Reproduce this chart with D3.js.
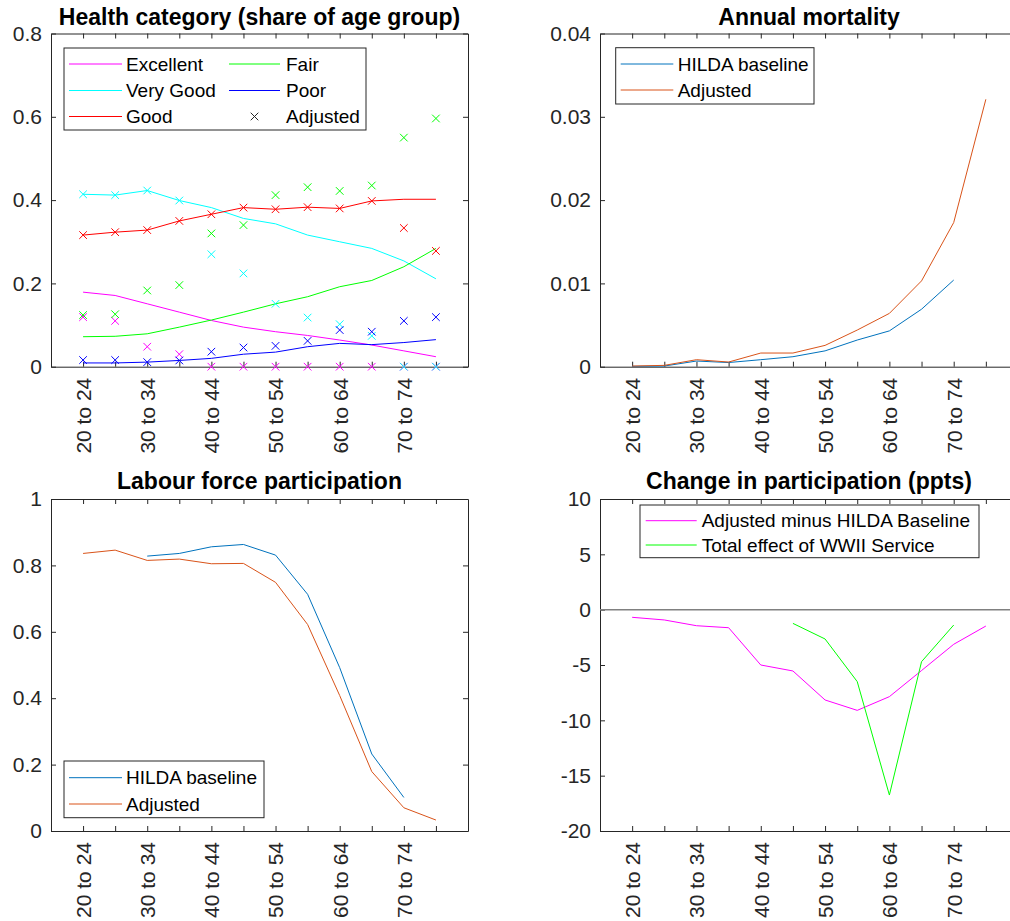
<!DOCTYPE html>
<html>
<head>
<meta charset="utf-8">
<script src="https://cdn.jsdelivr.net/npm/d3@7"></script>
<style>
  html, body { margin: 0; padding: 0; background: #fff; }
  svg { display: block; font-family: "Liberation Sans", Arial, Helvetica, sans-serif; }
</style>
</head>
<body>
<svg id="fig" width="1010" height="921"></svg>
<script>
// ---- Age groups (x categories) and shown tick labels ----
const ageGroups = ["20 to 24","25 to 29","30 to 34","35 to 39","40 to 44","45 to 49",
                   "50 to 54","55 to 59","60 to 64","65 to 69","70 to 74","75 to 79"];
const xTickLabels = ["20 to 24","","30 to 34","","40 to 44","","50 to 54","","60 to 64","","70 to 74",""];

// ---- Health category shares: HILDA baseline (lines) ----
const excellentBase = [0.179,0.171,0.151,0.131,0.111,0.095,0.084,0.075,0.064,0.052,0.038,0.024];
const veryGoodBase  = [0.414,0.412,0.423,0.399,0.382,0.356,0.343,0.316,0.300,0.284,0.254,0.211];
const goodBase      = [0.316,0.323,0.328,0.350,0.366,0.382,0.378,0.383,0.380,0.398,0.402,0.402];
const fairBase      = [0.072,0.073,0.079,0.095,0.112,0.131,0.151,0.168,0.192,0.207,0.240,0.284];
const poorBase      = [0.009,0.009,0.011,0.015,0.020,0.030,0.035,0.048,0.056,0.053,0.058,0.065];

// ---- Health category shares: adjusted (markers) ----
const excellentAdj = [0.119,0.110,0.048,0.030,0,0,0,0,0,0,0,0];
const veryGoodAdj  = [0.414,0.412,0.423,0.399,0.270,0.224,0.151,0.118,0.102,0.074,0,0];
const goodAdj      = [0.316,0.323,0.328,0.350,0.366,0.382,0.378,0.383,0.380,0.398,0.333,0.278];
const fairAdj      = [0.124,0.126,0.183,0.196,0.320,0.340,0.412,0.431,0.422,0.435,0.550,0.596];
const poorAdj      = [0.016,0.016,0.011,0.015,0.036,0.046,0.050,0.062,0.088,0.084,0.110,0.119];

// ---- Annual mortality ----
const mortalityBaseline = [0.00004,0.00008,0.00068,0.0005,0.00084,0.0012,0.0019,0.0032,0.0043,0.0069,0.0104,null];
const mortalityAdjusted = [0.00008,0.00016,0.00084,0.00056,0.00164,0.00164,0.00256,0.0044,0.0064,0.0103,0.0173,0.0321];

// ---- Labour force participation ----
const lfpBaseline = [null,null,0.828,0.836,0.856,0.863,0.831,0.713,0.492,0.232,0.101,null];
const lfpAdjusted = [0.836,0.846,0.815,0.819,0.805,0.806,0.749,0.622,0.408,0.179,0.070,0.033];

// ---- Change in participation (ppts) ----
const adjMinusBaseline = [-0.69,-0.93,-1.45,-1.63,-5.0,-5.54,-8.16,-9.1,-7.86,-5.5,-3.13,-1.48];
const wwiiTotalEffect  = [null,null,null,null,null,-1.24,-2.65,-6.5,-16.75,-4.7,-1.39,null];

// ---- Y tick values ----
const yTicksHealth = [0, 0.2, 0.4, 0.6, 0.8];
const yTicksMortality = [0, 0.01, 0.02, 0.03, 0.04];
const yTicksLfp = [0, 0.2, 0.4, 0.6, 0.8, 1];
const yTicksChange = [-20, -15, -10, -5, 0, 5, 10];

const AX = "#262626";
const C_BLUE = "#0072BD", C_ORANGE = "#D95319";
const C_MAG = "#FF00FF", C_CYAN = "#00FFFF", C_RED = "#FF0000", C_GREEN = "#00FF00", C_NAVY = "#0000FF";

const TICK_FONT = 21, LEGEND_FONT = 19, TITLE_FONT = 23;

const svg = d3.select("#fig");
const fmt = d => String(+d.toFixed(4));

function panel(box, yDomain, yTicks, title) {
  const g = svg.append("g");
  const x = d3.scaleLinear().domain([0, 13]).range([box.left, box.right]);
  const y = d3.scaleLinear().domain(yDomain).range([box.bottom, box.top]);
  const xt = d3.range(1, 13);
  const tick = 5;

  // bottom axis with rotated category labels
  const gb = g.append("g").attr("transform", `translate(0,${box.bottom})`)
    .call(d3.axisBottom(x).tickValues(xt).tickSizeInner(-tick).tickSizeOuter(0)
      .tickFormat(d => xTickLabels[d - 1]));
  gb.selectAll("text").attr("transform", "rotate(-90)")
    .attr("x", -11).attr("y", 0).attr("dy", "0.35em")
    .attr("text-anchor", "end");
  // top axis (ticks only)
  g.append("g").attr("transform", `translate(0,${box.top})`)
    .call(d3.axisTop(x).tickValues(xt).tickSizeInner(-tick).tickSizeOuter(0).tickFormat(""));
  // left axis
  const gl = g.append("g").attr("transform", `translate(${box.left},0)`)
    .call(d3.axisLeft(y).tickValues(yTicks).tickSizeInner(-tick).tickSizeOuter(0).tickFormat(fmt));
  gl.selectAll("text").attr("x", -9);
  // right axis (ticks only)
  g.append("g").attr("transform", `translate(${box.right},0)`)
    .call(d3.axisRight(y).tickValues(yTicks).tickSizeInner(-tick).tickSizeOuter(0).tickFormat(""));

  g.selectAll(".domain, .tick line").attr("stroke", AX).attr("stroke-width", 1);
  g.selectAll(".tick text").attr("fill", AX).attr("font-size", TICK_FONT)
    .attr("font-family", "'Liberation Sans', Arial, sans-serif");

  g.append("text").attr("x", (box.left + box.right) / 2).attr("y", box.titleY)
    .attr("text-anchor", "middle").attr("font-weight", "bold").attr("font-size", TITLE_FONT)
    .attr("fill", "#000").text(title);

  const plot = g.append("g");
  return { x, y, g, plot };
}

function drawLine(p, values, color) {
  const line = d3.line()
    .defined(d => d != null)
    .x((d, i) => p.x(i + 1)).y(d => p.y(d));
  p.plot.append("path").datum(values).attr("d", line)
    .attr("fill", "none").attr("stroke", color).attr("stroke-width", 1)
    .attr("stroke-linejoin", "round");
}

function drawCrosses(p, values, color) {
  const s = 3.8;
  p.plot.selectAll(null).data(values).enter().append("path")
    .attr("d", (d, i) => {
      const cx = p.x(i + 1), cy = p.y(d);
      return `M${cx - s},${cy - s}L${cx + s},${cy + s}M${cx - s},${cy + s}L${cx + s},${cy - s}`;
    })
    .attr("stroke", color).attr("stroke-width", 1).attr("fill", "none");
}

function legend(g, box, items, cols) {
  g.append("rect").attr("x", box.x).attr("y", box.y).attr("width", box.w).attr("height", box.h)
    .attr("fill", "#fff").attr("stroke", AX).attr("stroke-width", 1);
  items.forEach(it => {
    const c = cols[it.col];
    const yy = box.rows[it.row];
    if (it.marker) {
      const cx = (c.x0 + c.x1) / 2, s = 3.8;
      g.append("path")
        .attr("d", `M${cx - s},${yy - s}L${cx + s},${yy + s}M${cx - s},${yy + s}L${cx + s},${yy - s}`)
        .attr("stroke", it.color).attr("stroke-width", 1);
    } else {
      g.append("line").attr("x1", c.x0).attr("x2", c.x1).attr("y1", yy).attr("y2", yy)
        .attr("stroke", it.color).attr("stroke-width", 1);
    }
    g.append("text").attr("x", c.tx).attr("y", yy).attr("dy", "0.35em")
      .attr("font-size", LEGEND_FONT).attr("fill", "#000").text(it.label);
  });
}

// ---------- Panel 1: health categories ----------
const p1 = panel({ left: 51, right: 468, top: 33.5, bottom: 366.7, titleY: 25 },
  [0, 0.8], yTicksHealth, "Health category (share of age group)");
drawLine(p1, excellentBase, C_MAG);
drawLine(p1, veryGoodBase, C_CYAN);
drawLine(p1, goodBase, C_RED);
drawLine(p1, fairBase, C_GREEN);
drawLine(p1, poorBase, C_NAVY);
drawCrosses(p1, excellentAdj, C_MAG);
drawCrosses(p1, veryGoodAdj, C_CYAN);
drawCrosses(p1, goodAdj, C_RED);
drawCrosses(p1, fairAdj, C_GREEN);
drawCrosses(p1, poorAdj, C_NAVY);
legend(p1.g, { x: 64, y: 48, w: 302, h: 82, rows: [64, 90.5, 116.5] }, [
  { label: "Excellent", color: C_MAG, col: 0, row: 0 },
  { label: "Very Good", color: C_CYAN, col: 0, row: 1 },
  { label: "Good", color: C_RED, col: 0, row: 2 },
  { label: "Fair", color: C_GREEN, col: 1, row: 0 },
  { label: "Poor", color: C_NAVY, col: 1, row: 1 },
  { label: "Adjusted", color: AX, col: 1, row: 2, marker: true }
], [{ x0: 69, x1: 122, tx: 126 }, { x0: 229, x1: 280, tx: 286 }]);

// ---------- Panel 2: annual mortality ----------
const p2 = panel({ left: 600, right: 1018, top: 33.5, bottom: 366.7, titleY: 25 },
  [0, 0.04], yTicksMortality, "Annual mortality");
drawLine(p2, mortalityBaseline, C_BLUE);
drawLine(p2, mortalityAdjusted, C_ORANGE);
legend(p2.g, { x: 615.7, y: 47.7, w: 198.3, h: 56.3, rows: [64, 90] }, [
  { label: "HILDA baseline", color: C_BLUE, col: 0, row: 0 },
  { label: "Adjusted", color: C_ORANGE, col: 0, row: 1 }
], [{ x0: 620.7, x1: 673.3, tx: 677.7 }]);

// ---------- Panel 3: labour force participation ----------
const p3 = panel({ left: 51, right: 468, top: 499, bottom: 831, titleY: 489.3 },
  [0, 1], yTicksLfp, "Labour force participation");
drawLine(p3, lfpBaseline, C_BLUE);
drawLine(p3, lfpAdjusted, C_ORANGE);
legend(p3.g, { x: 64, y: 761, w: 200, h: 56.7, rows: [777.7, 804] }, [
  { label: "HILDA baseline", color: C_BLUE, col: 0, row: 0 },
  { label: "Adjusted", color: C_ORANGE, col: 0, row: 1 }
], [{ x0: 69, x1: 122, tx: 126 }]);

// ---------- Panel 4: change in participation ----------
const p4 = panel({ left: 600, right: 1018, top: 499, bottom: 831, titleY: 489.3 },
  [-20, 10], yTicksChange, "Change in participation (ppts)");
p4.plot.append("line").attr("x1", p4.x(0)).attr("x2", p4.x(13))
  .attr("y1", p4.y(0)).attr("y2", p4.y(0))
  .attr("stroke", "#808080").attr("stroke-width", 1.5);
drawLine(p4, adjMinusBaseline, C_MAG);
drawLine(p4, wwiiTotalEffect, C_GREEN);
legend(p4.g, { x: 640, y: 505, w: 339, h: 52.7, rows: [520.7, 545] }, [
  { label: "Adjusted minus HILDA Baseline", color: C_MAG, col: 0, row: 0 },
  { label: "Total effect of WWII Service", color: C_GREEN, col: 0, row: 1 }
], [{ x0: 645.7, x1: 696.7, tx: 701.7 }]);
</script>
</body>
</html>
